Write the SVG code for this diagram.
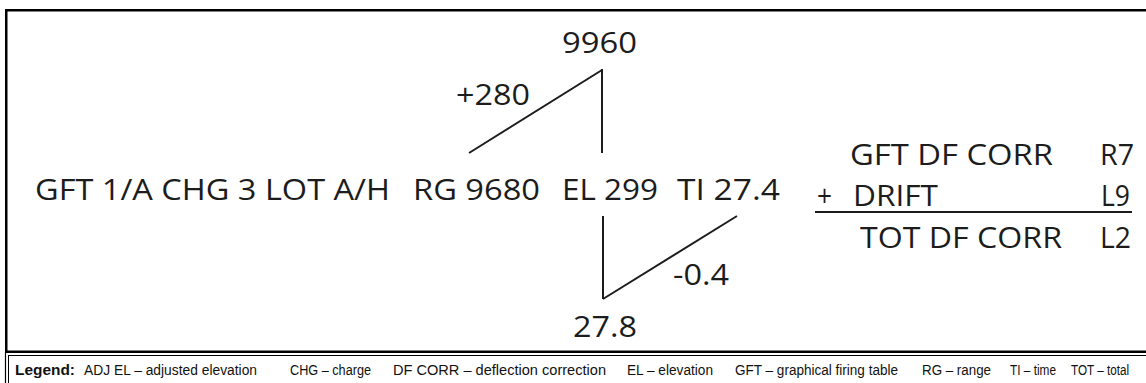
<svg xmlns="http://www.w3.org/2000/svg" width="1146" height="383" viewBox="0 0 1146 383">
<style>
.t{font-family:"Open Sans","Noto Sans",sans-serif;font-size:29px;fill:#1c1c1c}
.lg{font-family:"Liberation Sans",Arial,sans-serif;font-size:14px;fill:#111}
.lb{font-weight:bold}
.ln{stroke:#1c1c1c;stroke-width:2;fill:none}
</style>
<rect x="0" y="0" width="1146" height="383" fill="#fff"/>
<g id="frame">
<rect x="6.25" y="10.25" width="1145" height="341.5" fill="none" stroke="#000" stroke-width="2.5"/>
<line x1="5.5" y1="352" x2="5.5" y2="383" stroke="#000" stroke-width="1.2"/>
<rect x="8.5" y="355.5" width="1145" height="40" fill="none" stroke="#000" stroke-width="1"/>
</g>
<g id="connectors">
<line class="ln" x1="469" y1="153" x2="602" y2="70"/>
<line class="ln" x1="602" y1="69" x2="602" y2="153"/>
<line class="ln" x1="603" y1="216" x2="603" y2="299"/>
<line class="ln" x1="603" y1="299" x2="737" y2="216"/>
<line class="ln" x1="815" y1="212" x2="1132" y2="212"/>
</g>
<g id="main-row">
<text class="t" x="35" y="200" textLength="355" lengthAdjust="spacingAndGlyphs">GFT 1/A CHG 3 LOT A/H</text>
<text class="t" x="413" y="200" textLength="127" lengthAdjust="spacingAndGlyphs">RG 9680</text>
<text class="t" x="562" y="200" textLength="96" lengthAdjust="spacingAndGlyphs">EL 299</text>
<text class="t" x="677" y="200" textLength="103" lengthAdjust="spacingAndGlyphs">TI 27.4</text>
</g>
<g id="range-branch">
<text class="t" x="562" y="53" textLength="75" lengthAdjust="spacingAndGlyphs">9960</text>
<text class="t" x="456" y="105" textLength="74" lengthAdjust="spacingAndGlyphs">+280</text>
</g>
<g id="time-branch">
<text class="t" x="673" y="285" textLength="56" lengthAdjust="spacingAndGlyphs">-0.4</text>
<text class="t" x="573" y="337" textLength="64" lengthAdjust="spacingAndGlyphs">27.8</text>
</g>
<g id="df-block">
<text class="t" x="850" y="165" textLength="203" lengthAdjust="spacingAndGlyphs">GFT DF CORR</text>
<text class="t" x="1100" y="165" textLength="34" lengthAdjust="spacingAndGlyphs">R7</text>
<text class="t" x="817" y="206" textLength="15" lengthAdjust="spacingAndGlyphs">+</text>
<text class="t" x="853" y="206" textLength="85" lengthAdjust="spacingAndGlyphs">DRIFT</text>
<text class="t" x="1101" y="206" textLength="29" lengthAdjust="spacingAndGlyphs">L9</text>
<text class="t" x="860" y="248" textLength="202" lengthAdjust="spacingAndGlyphs">TOT DF CORR</text>
<text class="t" x="1100" y="248" textLength="31" lengthAdjust="spacingAndGlyphs">L2</text>
</g>
<g id="legend">
<text class="lg lb" x="15" y="375" textLength="60" lengthAdjust="spacingAndGlyphs">Legend:</text>
<text class="lg" x="84" y="375" textLength="173" lengthAdjust="spacingAndGlyphs">ADJ EL – adjusted elevation</text>
<text class="lg" x="290" y="375" textLength="81" lengthAdjust="spacingAndGlyphs">CHG – charge</text>
<text class="lg" x="393" y="375" textLength="213" lengthAdjust="spacingAndGlyphs">DF CORR – deflection correction</text>
<text class="lg" x="627" y="375" textLength="86" lengthAdjust="spacingAndGlyphs">EL – elevation</text>
<text class="lg" x="735" y="375" textLength="163" lengthAdjust="spacingAndGlyphs">GFT – graphical firing table</text>
<text class="lg" x="922" y="375" textLength="69" lengthAdjust="spacingAndGlyphs">RG – range</text>
<text class="lg" x="1010" y="375" textLength="46" lengthAdjust="spacingAndGlyphs">TI – time</text>
<text class="lg" x="1071" y="375" textLength="58" lengthAdjust="spacingAndGlyphs">TOT – total</text>
</g>
</svg>
